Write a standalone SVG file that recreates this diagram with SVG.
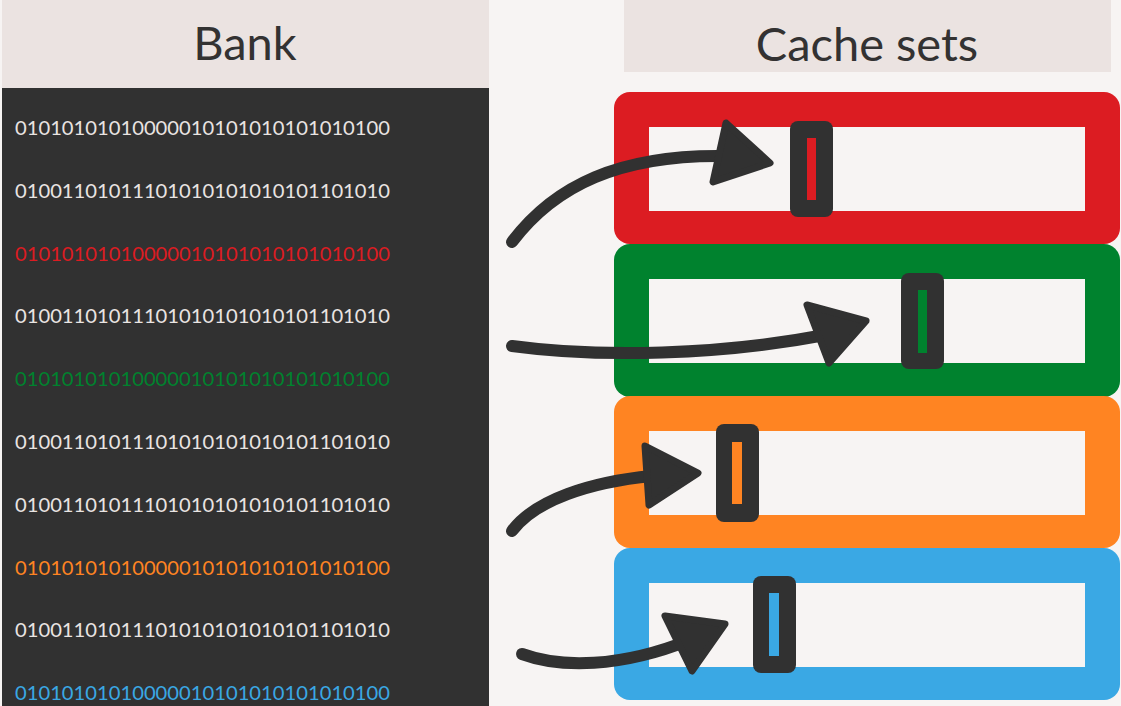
<svg xmlns="http://www.w3.org/2000/svg" width="1121" height="706" viewBox="0 0 1121 706">
  <style>
    .hdr { fill: #ebe3e1; }
    .title { font-family: Lato, "Open Sans", "Liberation Sans", sans-serif; font-size: 47px; fill: #333232; text-anchor: middle; }
    .bits { font-family: Lato, "Open Sans", "Liberation Sans", sans-serif; font-size: 20px; }
    .w { fill: #e9e4e2; }
    .red { fill: #dc1c22; }
    .green { fill: #00822e; }
    .orange { fill: #ff8422; }
    .blue { fill: #3aa8e4; }
    .hole { fill: #f7f4f3; }
    .slot { fill: #313131; }
    .shaft { fill: none; stroke: #313131; stroke-width: 12; stroke-linecap: round; }
    .head { fill: #313131; stroke: #313131; stroke-width: 7; stroke-linejoin: round; }
  </style>

  <!-- page background -->
  <rect x="0" y="0" width="1121" height="706" fill="#f7f4f3"/>

  <!-- memory bank column -->
  <g id="bank">
    <rect class="hdr" x="2" y="0" width="487" height="88"/>
    <text class="title" x="245" y="60">Bank</text>
    <rect x="2" y="88" width="487" height="618" fill="#313131"/>
    <g class="bits">
      <text class="w" x="15" y="135" textLength="375" lengthAdjust="spacingAndGlyphs">01010101010000010101010101010100</text>
      <text class="w" x="15" y="198" textLength="375" lengthAdjust="spacingAndGlyphs">01001101011101010101010101101010</text>
      <text class="red" x="15" y="261" textLength="375" lengthAdjust="spacingAndGlyphs">01010101010000010101010101010100</text>
      <text class="w" x="15" y="323" textLength="375" lengthAdjust="spacingAndGlyphs">01001101011101010101010101101010</text>
      <text class="green" x="15" y="386" textLength="375" lengthAdjust="spacingAndGlyphs">01010101010000010101010101010100</text>
      <text class="w" x="15" y="449" textLength="375" lengthAdjust="spacingAndGlyphs">01001101011101010101010101101010</text>
      <text class="w" x="15" y="512" textLength="375" lengthAdjust="spacingAndGlyphs">01001101011101010101010101101010</text>
      <text class="orange" x="15" y="575" textLength="375" lengthAdjust="spacingAndGlyphs">01010101010000010101010101010100</text>
      <text class="w" x="15" y="637" textLength="375" lengthAdjust="spacingAndGlyphs">01001101011101010101010101101010</text>
      <text class="blue" x="15" y="700" textLength="375" lengthAdjust="spacingAndGlyphs">01010101010000010101010101010100</text>
    </g>
  </g>

  <!-- cache sets header -->
  <g id="cache-header">
    <rect class="hdr" x="624" y="0" width="487" height="72"/>
    <text class="title" x="867" y="61">Cache sets</text>
  </g>

  <!-- cache sets: coloured frame, empty interior, marked line -->
  <g id="set-red">
    <rect class="red" x="614" y="92" width="506" height="152" rx="16"/>
    <rect class="hole" x="649" y="127" width="436" height="84"/>
    <rect class="slot" x="790" y="121" width="43" height="96" rx="8"/>
    <rect class="red" x="807" y="138" width="9" height="62"/>
  </g>
  <g id="set-green">
    <rect class="green" x="614" y="244" width="506" height="153" rx="16"/>
    <rect class="hole" x="649" y="279" width="436" height="84"/>
    <rect class="slot" x="901" y="273" width="43" height="96" rx="8"/>
    <rect class="green" x="918" y="290" width="9" height="63"/>
  </g>
  <g id="set-orange">
    <rect class="orange" x="614" y="396" width="506" height="152" rx="16"/>
    <rect class="hole" x="649" y="431" width="436" height="84"/>
    <rect class="slot" x="716" y="424" width="43" height="98" rx="8"/>
    <rect class="orange" x="732" y="442" width="10" height="62"/>
  </g>
  <g id="set-blue">
    <rect class="blue" x="614" y="548" width="506" height="152" rx="16"/>
    <rect class="hole" x="649" y="583" width="436" height="84"/>
    <rect class="slot" x="753" y="576" width="43" height="97" rx="8"/>
    <rect class="blue" x="769" y="593" width="10" height="63"/>
  </g>

  <!-- mapping arrows -->
  <g id="connectors">
    <path class="shaft" d="M512,242 C555,185 620,155 722,156"/>
    <polygon class="head" points="726,123 770,163 713,182"/>

    <path class="shaft" d="M512,346 C600,358 720,355 825,335"/>
    <polygon class="head" points="807,305 866,321 829,363"/>

    <path class="shaft" d="M512,531 C535,500 590,482 652,476"/>
    <polygon class="head" points="645,446 698,473 649,505"/>

    <path class="shaft" d="M522,654 C560,668 620,668 690,640"/>
    <polygon class="head" points="665,616 725,624 692,671"/>
  </g>
</svg>
